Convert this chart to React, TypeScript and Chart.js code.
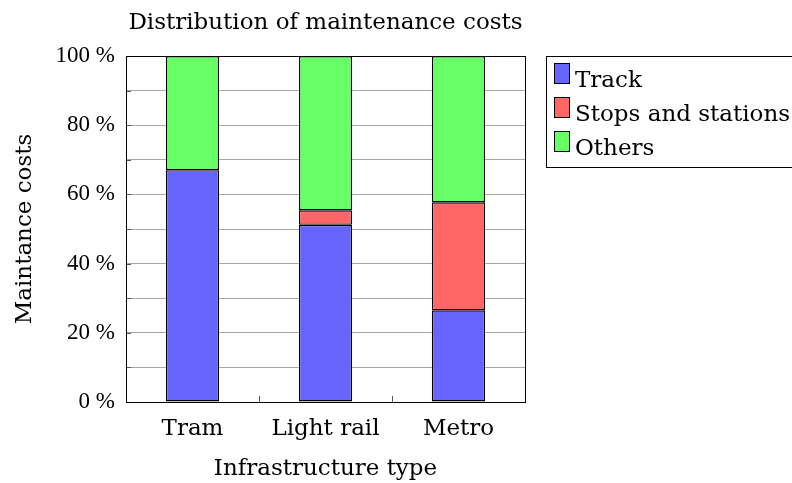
import React, { useEffect, useRef } from "react";
import { Chart, registerables } from "chart.js";

Chart.register(...registerables);

const categories = ["Tram", "Light rail", "Metro"];
const seriesNames = ["Track", "Stops and stations", "Others"];
const trackValues = [67, 51.2, 26.5];
const stopsValues = [0, 4.2, 31.2];
const othersValues = [33, 44.6, 42.3];
const seriesColors = ["#6666ff", "#ff6666", "#66ff66"];
const yTickValues = [0, 20, 40, 60, 80, 100];
const yMinorStep = 10;
const chartTitle = "Distribution of maintenance costs";
const xTitle = "Infrastructure type";
const yTitle = "Maintance costs";

const TEXT_FONT = "'DejaVu Serif', serif";
const NUM_FONT = "'Liberation Serif', serif";

const framePlugin = {
  id: "pgfFrame",
  afterDraw(chart: any) {
    const { ctx, chartArea: a, scales } = chart;
    const xs = scales.x;
    const ys = scales.y;
    ctx.save();
    ctx.strokeStyle = "#555";
    ctx.lineWidth = 1;
    ctx.beginPath();
    for (let v = 0; v <= 100; v += yMinorStep) {
      const py = Math.round(ys.getPixelForValue(v)) + 0.5;
      ctx.moveTo(a.left, py);
      ctx.lineTo(a.left + 5, py);
    }
    for (let i = 0; i < categories.length - 1; i++) {
      const px =
        Math.round((xs.getPixelForValue(i) + xs.getPixelForValue(i + 1)) / 2) + 0.5;
      ctx.moveTo(px, a.bottom);
      ctx.lineTo(px, a.bottom - 6);
    }
    ctx.stroke();
    ctx.strokeStyle = "#000";
    ctx.lineWidth = 1;
    ctx.strokeRect(a.left + 0.5, a.top + 0.5, a.right - a.left, a.bottom - a.top);
    ctx.restore();
  },
};

export default function App() {
  const ref = useRef<HTMLCanvasElement>(null);

  useEffect(() => {
    const datasetValues = [trackValues, stopsValues, othersValues];
    const chart = new Chart(ref.current as HTMLCanvasElement, {
      type: "bar",
      data: {
        labels: categories,
        datasets: seriesNames.map((name, i) => ({
          label: name,
          data: datasetValues[i],
          backgroundColor: seriesColors[i],
          borderColor: "#000",
          borderWidth: 1.4,
          borderSkipped: false,
          barPercentage: 0.4,
          categoryPercentage: 1.0,
        })),
      },
      options: {
        animation: false,
        responsive: false,
        devicePixelRatio: 1,
        layout: { padding: { left: 0, right: 267, top: 0, bottom: 0 } },
        plugins: {
          legend: { display: false },
          tooltip: { enabled: false },
          title: {
            display: true,
            text: chartTitle,
            fullSize: false,
            color: "#000",
            font: { family: TEXT_FONT, size: 23, lineHeight: 1, weight: "normal" },
            padding: { top: 11.5, bottom: 21.5 },
          },
        },
        scales: {
          x: {
            stacked: true,
            offset: true,
            grid: { display: false },
            border: { display: false },
            ticks: {
              color: "#000",
              font: { family: TEXT_FONT, size: 23, lineHeight: 1 },
              padding: 7.5,
              maxRotation: 0,
              autoSkip: false,
            },
            title: {
              display: true,
              text: xTitle,
              color: "#000",
              font: { family: TEXT_FONT, size: 23, lineHeight: 1 },
              padding: { top: 0, bottom: 2.5 },
            },
            afterFit: (s: any) => {
              s.height = 81;
            },
          },
          y: {
            stacked: true,
            min: 0,
            max: 100,
            grid: { color: "#a6a6a6", drawTicks: false, tickLength: 0, lineWidth: 1 },
            border: { display: false },
            ticks: {
              stepSize: yMinorStep,
              padding: 11,
              color: "#000",
              font: { family: NUM_FONT, size: 23, lineHeight: 1 },
              callback: (v: any) => (yTickValues.includes(Number(v)) ? `${v} %` : ""),
            },
            title: {
              display: true,
              text: yTitle,
              color: "#000",
              font: { family: TEXT_FONT, size: 23, lineHeight: 1 },
              padding: { top: 13.5, bottom: 0 },
            },
            afterFit: (s: any) => {
              s.width = 126;
            },
          },
        },
      },
      plugins: [framePlugin],
    } as any);
    return () => chart.destroy();
  }, []);

  return (
    <div
      style={{
        position: "fixed",
        left: 0,
        top: 0,
        width: 792,
        height: 483,
        overflow: "hidden",
        background: "#fff",
      }}
    >
      <canvas
        ref={ref}
        width={792}
        height={483}
        style={{ display: "block", width: 792, height: 483 }}
      />
      <div
        style={{
          position: "absolute",
          left: 546,
          top: 56,
          width: 260,
          height: 112,
          boxSizing: "border-box",
          border: "1px solid #000",
          fontFamily: TEXT_FONT,
          fontSize: 23,
          lineHeight: "23px",
          color: "#000",
        }}
      >
        {seriesNames.map((name, i) => (
          <React.Fragment key={name}>
            <div
              style={{
                position: "absolute",
                left: 7,
                top: 6 + 34 * i,
                width: 16,
                height: 21,
                boxSizing: "border-box",
                border: "1px solid #000",
                background: seriesColors[i],
              }}
            />
            <div
              style={{
                position: "absolute",
                left: 28,
                top: 10.6 + 34 * i,
                whiteSpace: "nowrap",
              }}
            >
              {name}
            </div>
          </React.Fragment>
        ))}
      </div>
    </div>
  );
}
